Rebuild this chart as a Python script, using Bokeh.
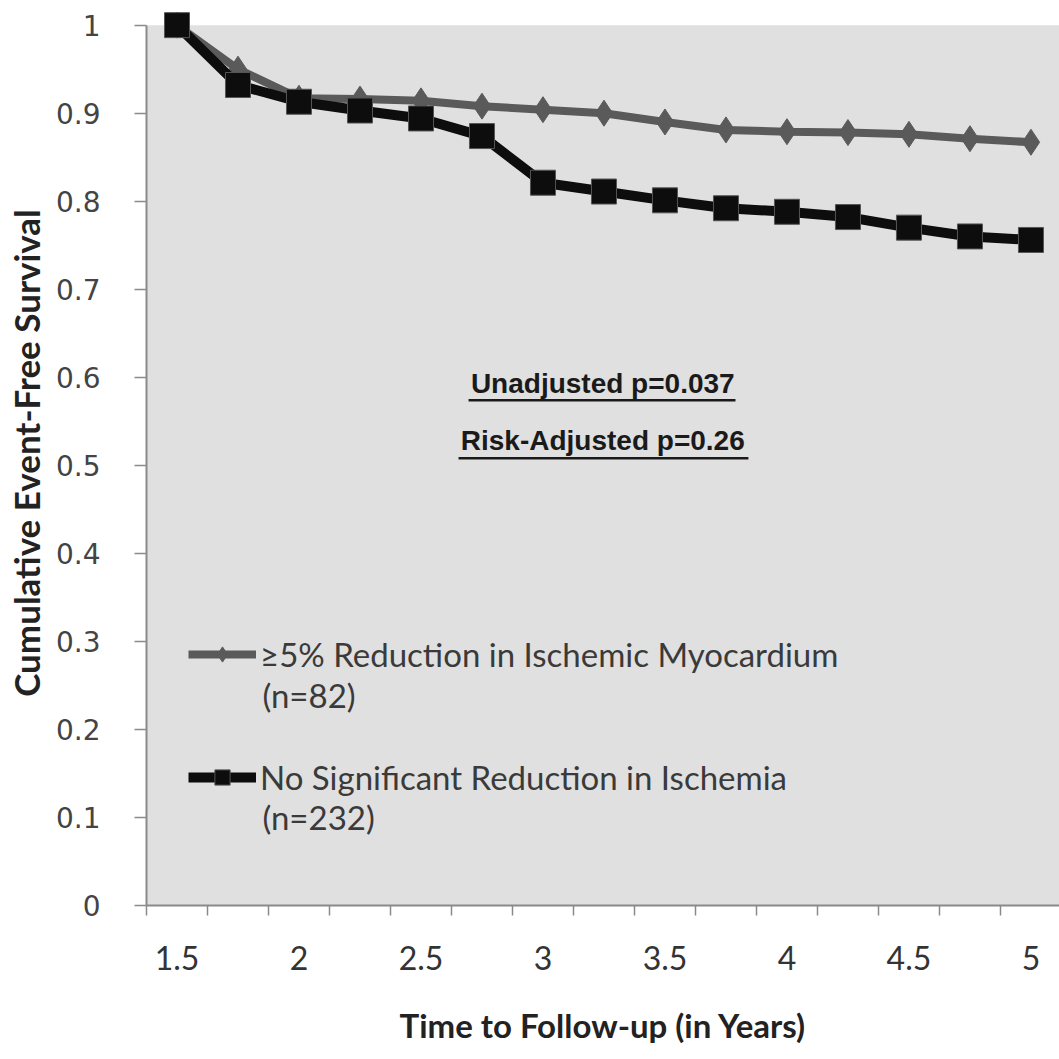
from bokeh.plotting import figure
from bokeh.models import (Range1d, FixedTicker, CustomJSTickFormatter, BoxAnnotation,
                          Legend, LegendItem, Label, ColumnDataSource)
from bokeh.embed import file_html
from bokeh.resources import INLINE

# ---- data ----
years = [1.5, 1.75, 2.0, 2.25, 2.5, 2.75, 3.0, 3.25, 3.5, 3.75, 4.0, 4.25, 4.5, 4.75, 5.0]
reduction = [1.0, 0.950, 0.917, 0.916, 0.914, 0.908, 0.904, 0.900, 0.890, 0.881, 0.879, 0.878, 0.876, 0.871, 0.867]
no_reduction = [1.0, 0.932, 0.913, 0.903, 0.894, 0.874, 0.821, 0.811, 0.801, 0.792, 0.788, 0.782, 0.770, 0.760, 0.756]
x_tick_labels = [1.5, 2.0, 2.5, 3.0, 3.5, 4.0, 4.5, 5.0]
y_ticks = [0, 0.1, 0.2, 0.3, 0.4, 0.5, 0.6, 0.7, 0.8, 0.9, 1.0]
series_names = ["\u22655% Reduction in Ischemic Myocardium", "No Significant Reduction in Ischemia"]
series_n = ["(n=82)", "(n=232)"]
p_texts = ["Unadjusted p=0.037", "Risk-Adjusted p=0.26"]

step = 0.25
boundaries = [years[0] - step / 2 + step * i for i in range(len(years) + 1)]

GRAY = "#5a5a5a"
BLACK = "#0d0d0d"

p = figure(width=1059, height=1059, output_backend="svg", toolbar_location=None,
           x_range=Range1d(1.375, 5.117), y_range=Range1d(0, 1.028),
           min_border_left=146, min_border_right=0, min_border_top=0, min_border_bottom=154)
p.background_fill_color = "white"
p.border_fill_color = "white"
p.outline_line_color = None
p.grid.visible = False

p.add_layout(BoxAnnotation(bottom=0, top=1, fill_color="#e0e0e0", fill_alpha=1,
                           line_color=None, level="underlay"))

# x axis
xa = p.xaxis[0]
xa.ticker = FixedTicker(ticks=x_tick_labels, minor_ticks=boundaries)
xa.formatter = CustomJSTickFormatter(code="return String(tick)")
xa.major_tick_line_color = None
xa.major_tick_in = 0
xa.major_tick_out = 10
xa.minor_tick_in = 0
xa.minor_tick_out = 10
xa.minor_tick_line_color = "#8a8a8a"
xa.minor_tick_line_width = 1.5
xa.axis_line_color = "#8a8a8a"
xa.axis_line_width = 2
xa.major_label_standoff = 30
xa.major_label_text_font = "Lato"
xa.major_label_text_font_size = "32px"
xa.major_label_text_color = "#333333"
xa.axis_label = "Time to Follow-up (in Years)"
xa.axis_label_text_font = "Lato"
xa.axis_label_text_font_style = "bold"
xa.axis_label_text_font_size = "33px"
xa.axis_label_text_color = "#222222"
xa.axis_label_standoff = 32

# y axis
ya = p.yaxis[0]
ya.ticker = FixedTicker(ticks=y_ticks, minor_ticks=[])
ya.formatter = CustomJSTickFormatter(code="return String(Math.round(tick*10)/10)")
ya.bounds = (0, 1)
ya.major_tick_in = 0
ya.major_tick_out = 12
ya.major_tick_line_color = "#8a8a8a"
ya.major_tick_line_width = 1.5
ya.minor_tick_line_color = None
ya.axis_line_color = "#8a8a8a"
ya.axis_line_width = 2
ya.major_label_standoff = 34
ya.major_label_text_font = "DejaVu Sans"
ya.major_label_text_font_size = "28px"
ya.major_label_text_color = "#444444"
ya.axis_label = "Cumulative Event-Free Survival"
ya.axis_label_text_font = "Lato"
ya.axis_label_text_font_style = "bold"
ya.axis_label_text_font_size = "35px"
ya.axis_label_text_color = "#222222"
ya.axis_label_standoff = 6

# series
src = ColumnDataSource(dict(x=years, r=reduction, n=no_reduction))
l1 = p.line("x", "r", source=src, line_color=GRAY, line_width=8)
m1 = p.scatter("x", "r", source=src, marker="diamond", size=26, fill_color=GRAY, line_color=GRAY)
l2 = p.line("x", "n", source=src, line_color=BLACK, line_width=10)
m2 = p.scatter("x", "n", source=src, marker="square", size=25, fill_color=BLACK, line_color="#555555", line_width=1)

legend = Legend(items=[LegendItem(label=series_names[0], renderers=[l1, m1]),
                       LegendItem(label=series_names[1], renderers=[l2, m2])],
                location=(42, 108))
legend.label_text_font = "Lato"
legend.label_text_font_size = "33px"
legend.label_text_color = "#3a3a3a"
legend.glyph_width = 68
legend.glyph_height = 38
legend.label_height = 38
legend.spacing = 83
legend.padding = 0
legend.margin = 0
legend.label_standoff = 4
legend.border_line_color = None
legend.background_fill_alpha = 0
p.add_layout(legend)

for txt, yy in zip(series_n, [0.239, 0.101]):
    p.add_layout(Label(x=1.85, y=yy, text=txt, text_font="Lato", text_font_size="33px",
                       text_color="#3a3a3a", text_baseline="middle", text_align="left"))

# p-value annotations (bold, underlined)
underlines = [(2.695, 3.789), (2.654, 3.842)]
for txt, yy in zip(p_texts, [0.593, 0.528]):
    p.add_layout(Label(x=3.245, y=yy, text=txt, text_font="Liberation Sans", text_font_style="bold",
                       text_font_size="28px", text_color="#1a1a1a", text_baseline="middle",
                       text_align="center"))
p.segment(x0=[u[0] for u in underlines], x1=[u[1] for u in underlines],
          y0=[0.574, 0.508], y1=[0.574, 0.508], line_color="#1a1a1a", line_width=2.5)

open("out.html", "w").write(file_html(p, INLINE))
